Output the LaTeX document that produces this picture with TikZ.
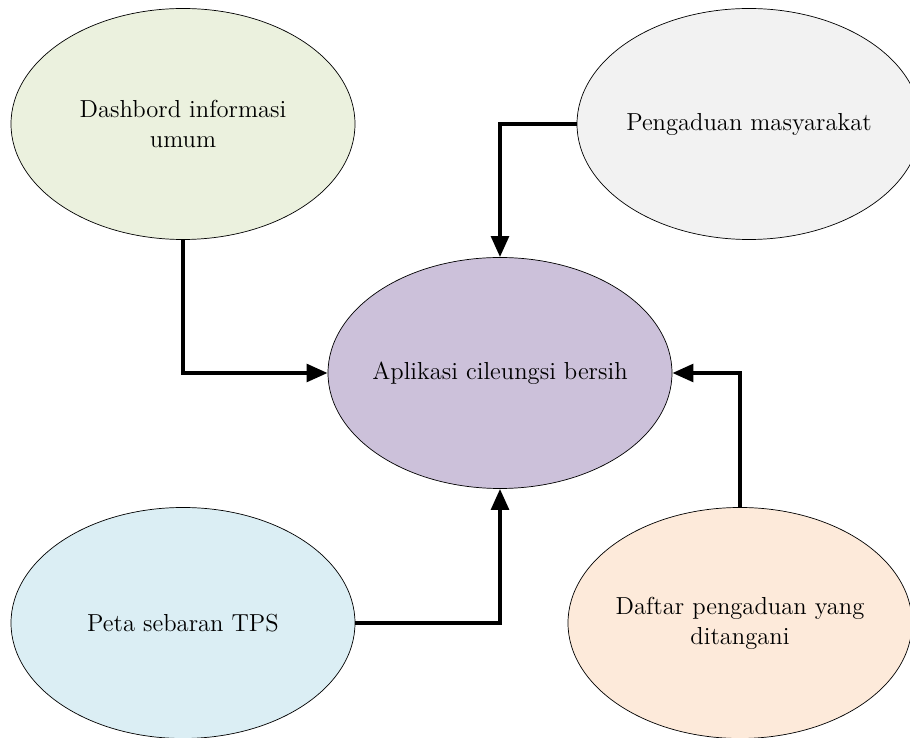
\documentclass[tikz,border=0pt]{standalone}
\usepackage{fontspec}
\usepackage{tikz}
\usetikzlibrary{shapes,arrows.meta}
\definecolor{greenfill}{HTML}{EBF1DE}
\definecolor{greyfill}{HTML}{F2F2F2}
\definecolor{purplefill}{HTML}{CCC1DA}
\definecolor{bluefill}{HTML}{DBEEF4}
\definecolor{orangefill}{HTML}{FDEADA}
\newcommand{\ellw}{6.88cm}
\newcommand{\ellh}{4.62cm}
\tikzset{
    node style ell/.style={draw,ellipse,inner ysep=0pt,inner xsep=-10pt,
                           minimum width=\ellw,minimum height=\ellh,
                           align=center,font=\fontsize{14}{17}\selectfont},
    arrow style flow/.style={->,line width=2.3pt},
}

\begin{document}
\begin{tikzpicture}[>={Triangle[length=12pt,width=10pt]}]
\useasboundingbox (0,0) rectangle (18.2,-14.76);
% 
\node [node style ell,fill=purplefill] (app) at (10,-7.46) {Aplikasi cileungsi bersih};
\node [node style ell,fill=greenfill] (dash) at (3.66,-2.48) {Dashbord informasi\\umum};
\node [node style ell,fill=greyfill] (aduan) at (14.98,-2.48) {Pengaduan masyarakat};
\node [node style ell,fill=bluefill] (peta) at (3.66,-12.46) {Peta sebaran TPS};
\node [node style ell,fill=orangefill] (daftar) at (14.8,-12.46) {Daftar pengaduan yang\\ditangani};
% 
%arrows into the application
\draw [arrow style flow] (dash.south) |- (app.west);
\draw [arrow style flow] (aduan.west) -| (app.north);
\draw [arrow style flow] (peta.east) -| (app.south);
\draw [arrow style flow] (daftar.north) |- (app.east);

\end{tikzpicture}
\end{document}
